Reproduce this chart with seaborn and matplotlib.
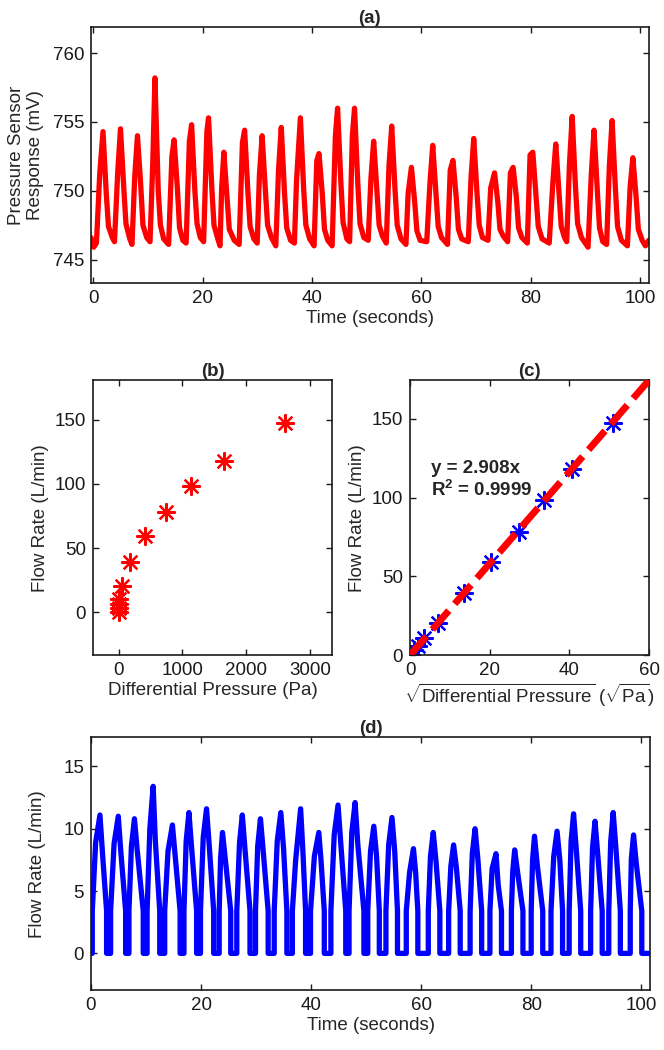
import numpy as np
import pandas as pd
import matplotlib
matplotlib.use("Agg")
import matplotlib.pyplot as plt
import seaborn as sns

# (a) pressure sensor trace, one entry per breath (seconds / mV)
a_lead_t = [-0.4, 0.1]
a_lead_mv = [746.6, 745.9]
a_on_t = [0.6, 3.9, 7.1, 10.4, 13.8, 17.0, 20.2, 23.2, 26.7, 30.0, 33.4, 36.8, 40.4, 43.7, 46.9,
          50.3, 53.6, 57.2, 61.0, 64.8, 68.6, 72.2, 75.8, 79.4, 83.4, 86.6, 90.5, 93.9, 97.7]
a_base_mv = [746.2, 746.3, 746.1, 746.3, 746.1, 746.2, 746.3, 746.0, 746.1, 746.2, 746.0, 746.2, 746.0, 746.0, 746.3,
             746.4, 746.2, 746.1, 746.3, 746.1, 746.3, 746.4, 746.3, 746.2, 746.2, 746.3, 745.9, 746.1, 746.0]
a_sh_t = [1.2, 4.5, 7.6, 10.9, 14.4, 17.6, 20.8, 23.5, 27.3, 30.4, 33.9, 37.2, 40.9, 44.3, 47.4,
          50.8, 54.1, 57.6, 61.6, 65.3, 69.1, 72.7, 76.3, 79.9, 84.1, 87.1, 91.1, 94.4, 98.2]
a_sh_mv = [751.2, 751.4, 751.0, 752.0, 752.5, 753.6, 754.3, 750.2, 753.5, 751.1, 751.5, 750.8, 752.2, 754.0, 754.0,
           750.9, 751.8, 749.8, 750.6, 751.5, 750.9, 750.2, 751.3, 752.6, 750.8, 751.9, 751.2, 751.8, 750.3]
a_pk_t = [1.8, 5.0, 8.1, 11.3, 14.8, 18.0, 21.1, 23.9, 27.7, 30.9, 34.4, 37.9, 41.3, 44.7, 47.8,
          51.3, 54.6, 58.2, 62.1, 65.8, 69.6, 73.4, 76.8, 80.4, 84.6, 87.6, 91.6, 94.9, 98.7]
a_pk_mv = [754.3, 754.5, 754.0, 758.2, 753.7, 754.8, 755.3, 752.8, 754.4, 754.0, 754.6, 755.3, 752.7, 756.0, 756.0,
           753.6, 754.7, 751.7, 753.3, 752.2, 753.8, 751.3, 751.7, 752.8, 753.4, 755.4, 754.4, 755.1, 752.4]
a_knee_t = [2.4, 5.6, 8.7, 11.9, 15.4, 18.6, 21.7, 24.5, 28.3, 31.5, 35.0, 38.5, 41.9, 45.3, 48.4,
            51.9, 55.2, 58.8, 62.7, 66.4, 70.2, 74.0, 77.4, 81.0, 85.2, 88.2, 92.2, 95.5, 99.3]
a_knee_mv = [749.8, 750.2, 750.4, 750.0, 750.2, 750.0, 750.2, 749.5, 749.9, 750.0, 749.8, 750.1, 749.8, 750.6, 750.5,
             749.9, 750.1, 749.2, 749.8, 749.5, 749.8, 749.2, 749.5, 749.6, 749.8, 750.3, 750.0, 750.2, 749.5]
a_knee2_t = [2.8, 6.0, 9.1, 12.3, 15.8, 19.0, 22.1, 24.9, 28.7, 31.9, 35.4, 38.9, 42.3, 45.7, 48.8,
             52.3, 55.6, 59.2, 63.1, 66.8, 70.6, 74.4, 77.8, 81.4, 85.6, 88.6, 92.6, 95.9, 99.7]
a_knee2_mv = [747.4, 747.6, 747.5, 747.5, 747.3, 747.6, 747.5, 747.2, 747.4, 747.5, 747.3, 747.5, 747.2, 747.7, 747.6,
              747.5, 747.5, 747.1, 747.4, 747.2, 747.5, 747.2, 747.3, 747.4, 747.4, 747.6, 747.3, 747.4, 747.2]
a_end_t = [3.5, 6.7, 9.8, 12.9, 16.4, 19.6, 22.8, 25.8, 29.4, 32.6, 36.1, 39.6, 42.9, 46.4, 49.5,
           52.9, 56.3, 59.8, 63.7, 67.4, 71.2, 75.0, 78.4, 82.1, 86.2, 89.3, 93.2, 96.6, 100.4]
a_end_mv = [746.6, 746.5, 746.6, 746.5, 746.4, 746.6, 746.5, 746.4, 746.5, 746.6, 746.4, 746.5, 746.4, 746.5, 746.6,
            746.7, 746.5, 746.4, 746.6, 746.5, 746.6, 746.7, 746.6, 746.5, 746.6, 746.6, 746.3, 746.4, 746.4]
a_tail_t = [101.0, 101.6]
a_tail_mv = [746.0, 746.4]

# (b)/(c) calibration points
cal_pressure_pa = [0, 1, 4, 13, 50, 183, 418, 742, 1138, 1658, 2598]
cal_flow_lpm = [0, 3, 6, 10.6, 20.2, 39.3, 59.4, 78.4, 98.4, 118.2, 147.4]
fit_slope = 2.908
fit_x = [0, 60]

# (d) flow trace, one entry per breath (seconds / L/min)
d_on_t = [0.24, 3.57, 6.9, 10.2, 13.4, 16.9, 19.9, 23.3, 26.5, 29.9, 33.3, 36.6, 39.9, 43.6, 46.9,
          50.3, 53.6, 57.3, 61.3, 65.0, 68.9, 72.5, 76.4, 80.0, 83.6, 86.9, 90.8, 94.1, 98.0]
d_sh_t = [0.85, 4.2, 7.35, 10.7, 14.0, 17.3, 20.4, 23.55, 27.0, 30.3, 33.85, 37.2, 40.6, 44.2, 47.4,
          50.8, 54.1, 57.9, 61.7, 65.4, 69.3, 72.9, 76.65, 80.25, 84.1, 87.25, 91.15, 94.45, 98.2]
d_sh_v = [8.9, 8.8, 8.6, 10.0, 8.2, 9.0, 9.3, 7.6, 8.9, 8.6, 9.0, 7.5, 7.8, 9.5, 9.7,
          8.2, 8.7, 6.5, 7.8, 7.0, 8.0, 6.8, 6.6, 7.5, 7.8, 9.0, 8.5, 9.0, 7.6]
d_pk_t = [1.63, 4.96, 7.9, 11.3, 14.8, 17.8, 21.0, 23.9, 27.5, 30.8, 34.5, 38.1, 41.4, 44.9, 48.0,
          51.4, 54.7, 58.6, 62.2, 65.9, 69.8, 73.6, 77.0, 80.6, 84.7, 87.7, 91.6, 94.9, 98.6]
d_pk_v = [11.1, 11.0, 10.8, 13.4, 10.3, 11.3, 11.6, 9.7, 11.1, 10.8, 11.3, 11.6, 9.7, 11.9, 12.1,
          10.2, 10.9, 8.4, 9.7, 8.7, 10.0, 8.0, 8.3, 9.4, 9.8, 11.2, 10.6, 11.3, 9.5]
d_knee_t = [2.1, 5.4, 8.4, 11.7, 15.3, 18.3, 21.5, 24.4, 28.0, 31.3, 35.0, 38.5, 41.8, 45.4, 48.5,
            51.9, 55.2, 59.0, 62.7, 66.4, 70.3, 74.0, 77.5, 81.1, 85.2, 88.2, 92.1, 95.4, 99.1]
d_knee_v = [8.0, 8.3, 8.3, 9.0, 7.8, 8.4, 8.6, 7.6, 8.3, 8.2, 8.4, 8.3, 7.5, 8.8, 8.7,
            7.8, 8.2, 6.5, 7.4, 6.9, 7.6, 5.5, 6.6, 7.1, 7.5, 8.3, 7.9, 8.4, 7.2]
d_off_t = [2.84, 6.3, 9.5, 12.5, 16.2, 19.2, 22.3, 25.4, 28.9, 32.2, 35.6, 39.0, 42.4, 46.3, 49.6,
           52.4, 55.7, 59.4, 63.4, 67.1, 71.0, 74.6, 78.5, 82.1, 85.7, 89.0, 92.9, 96.2, 100.1]
d_edge_v = 3.4
d_start_t = 0.0
d_stop_t = 101.6

sns.set_theme(style="ticks")
plt.rcParams["font.family"] = ["Liberation Sans", "DejaVu Sans"]
plt.rcParams["mathtext.fontset"] = "custom"
plt.rcParams["mathtext.rm"] = "Liberation Sans"
plt.rcParams["mathtext.bf"] = "Liberation Sans:bold"
plt.rcParams["mathtext.it"] = "Liberation Sans:italic"

FS = 13.5
LW = 3.8

# build traces from the per-breath points
ta, va = list(a_lead_t), list(a_lead_mv)
for i in range(len(a_on_t)):
    ta += [a_on_t[i], a_sh_t[i], a_pk_t[i], a_knee_t[i], a_knee2_t[i], a_end_t[i]]
    va += [a_base_mv[i], a_sh_mv[i], a_pk_mv[i], a_knee_mv[i], a_knee2_mv[i], a_end_mv[i]]
ta += a_tail_t
va += a_tail_mv
df_a = pd.DataFrame({"t": ta, "mv": va})

td, vd = [d_start_t], [0.0]
for i in range(len(d_on_t)):
    td += [d_on_t[i], d_on_t[i], d_sh_t[i], d_pk_t[i], d_knee_t[i], d_off_t[i], d_off_t[i]]
    vd += [0.0, d_edge_v, d_sh_v[i], d_pk_v[i], d_knee_v[i], d_edge_v, 0.0]
td.append(d_stop_t)
vd.append(0.0)
df_d = pd.DataFrame({"t": td, "flow": vd})

cal = pd.DataFrame({"p": cal_pressure_pa, "flow": cal_flow_lpm})
cal["sqrt_p"] = np.sqrt(cal["p"])
fit = pd.DataFrame({"x": fit_x})
fit["y"] = fit_slope * fit["x"]

fig = plt.figure(figsize=(6.64, 10.5), dpi=100)
ax_a = fig.add_axes([0.137, 0.7305, 0.840, 0.2438])
ax_b = fig.add_axes([0.140, 0.376, 0.360, 0.262])
ax_c = fig.add_axes([0.6175, 0.376, 0.360, 0.262])
ax_d = fig.add_axes([0.137, 0.057, 0.842, 0.241])

asterisk = (8, 2, 0)

sns.lineplot(data=df_a, x="t", y="mv", ax=ax_a, color="#ff0000", linewidth=LW,
             sort=False, estimator=None)
ax_a.set_xlim(-0.4, 101.6)
ax_a.set_ylim(743.3, 761.9)
ax_a.set_xticks([0, 20, 40, 60, 80, 100])
ax_a.set_yticks([745, 750, 755, 760])
ax_a.set_xlabel("Time (seconds)", fontsize=FS, labelpad=2)
ax_a.set_ylabel("Pressure Sensor\nResponse (mV)", fontsize=FS, labelpad=6)
ax_a.set_title("(a)", fontsize=FS, fontweight="bold", pad=3)

sns.scatterplot(data=cal, x="p", y="flow", ax=ax_b, marker=asterisk, s=150,
                color="#ff0000", edgecolor="#ff0000", linewidth=1.6, zorder=3)
ax_b.set_xlim(-400, 3340)
ax_b.set_ylim(-33.6, 181)
ax_b.set_xticks([0, 1000, 2000, 3000])
ax_b.set_yticks([0, 50, 100, 150])
ax_b.set_xlabel("Differential Pressure (Pa)", fontsize=FS, labelpad=2)
ax_b.set_ylabel("Flow Rate (L/min)", fontsize=FS, labelpad=4)
ax_b.set_title("(b)", fontsize=FS, fontweight="bold", pad=3)

sns.scatterplot(data=cal, x="sqrt_p", y="flow", ax=ax_c, marker=asterisk, s=150,
                color="#0000ff", edgecolor="#0000ff", linewidth=1.6, zorder=2)
sns.lineplot(data=fit, x="x", y="y", ax=ax_c, color="#ff0000", linewidth=5, zorder=3)
ax_c.lines[-1].set_dashes((3.6, 1.3))
ax_c.set_xlim(0, 60)
ax_c.set_ylim(0, 174.5)
ax_c.set_xticks([0, 20, 40, 60])
ax_c.set_yticks([0, 50, 100, 150])
ax_c.set_xlabel(r"$\sqrt{\mathrm{Differential\ Pressure}}$ ($\sqrt{\mathrm{Pa}}$)", fontsize=FS, labelpad=2)
ax_c.set_ylabel("Flow Rate (L/min)", fontsize=FS, labelpad=4)
ax_c.set_title("(c)", fontsize=FS, fontweight="bold", pad=3)
ax_c.text(5.2, 111, "y = 2.908x\nR$^{\\mathbf{2}}$ = 0.9999", fontsize=FS, fontweight="bold",
          ha="left", va="center", linespacing=1.15)

sns.lineplot(data=df_d, x="t", y="flow", ax=ax_d, color="#0000ff", linewidth=LW,
             sort=False, estimator=None)
ax_d.set_xlim(0, 101.6)
ax_d.set_ylim(-2.95, 17.35)
ax_d.set_xticks([0, 20, 40, 60, 80, 100])
ax_d.set_yticks([0, 5, 10, 15])
ax_d.set_xlabel("Time (seconds)", fontsize=FS, labelpad=2)
ax_d.set_ylabel("Flow Rate (L/min)", fontsize=FS, labelpad=12)
ax_d.set_title("(d)", fontsize=FS, fontweight="bold", pad=3)

for ax in (ax_a, ax_b, ax_c, ax_d):
    for sp in ax.spines.values():
        sp.set_visible(True)
        sp.set_linewidth(1.2)
        sp.set_color("#1a1a1a")
    ax.tick_params(direction="in", top=True, right=True, length=4, width=1.0,
                   labelsize=FS, pad=5, colors="#1a1a1a")
    ax.grid(False)

fig.savefig("out.png", dpi=100)
